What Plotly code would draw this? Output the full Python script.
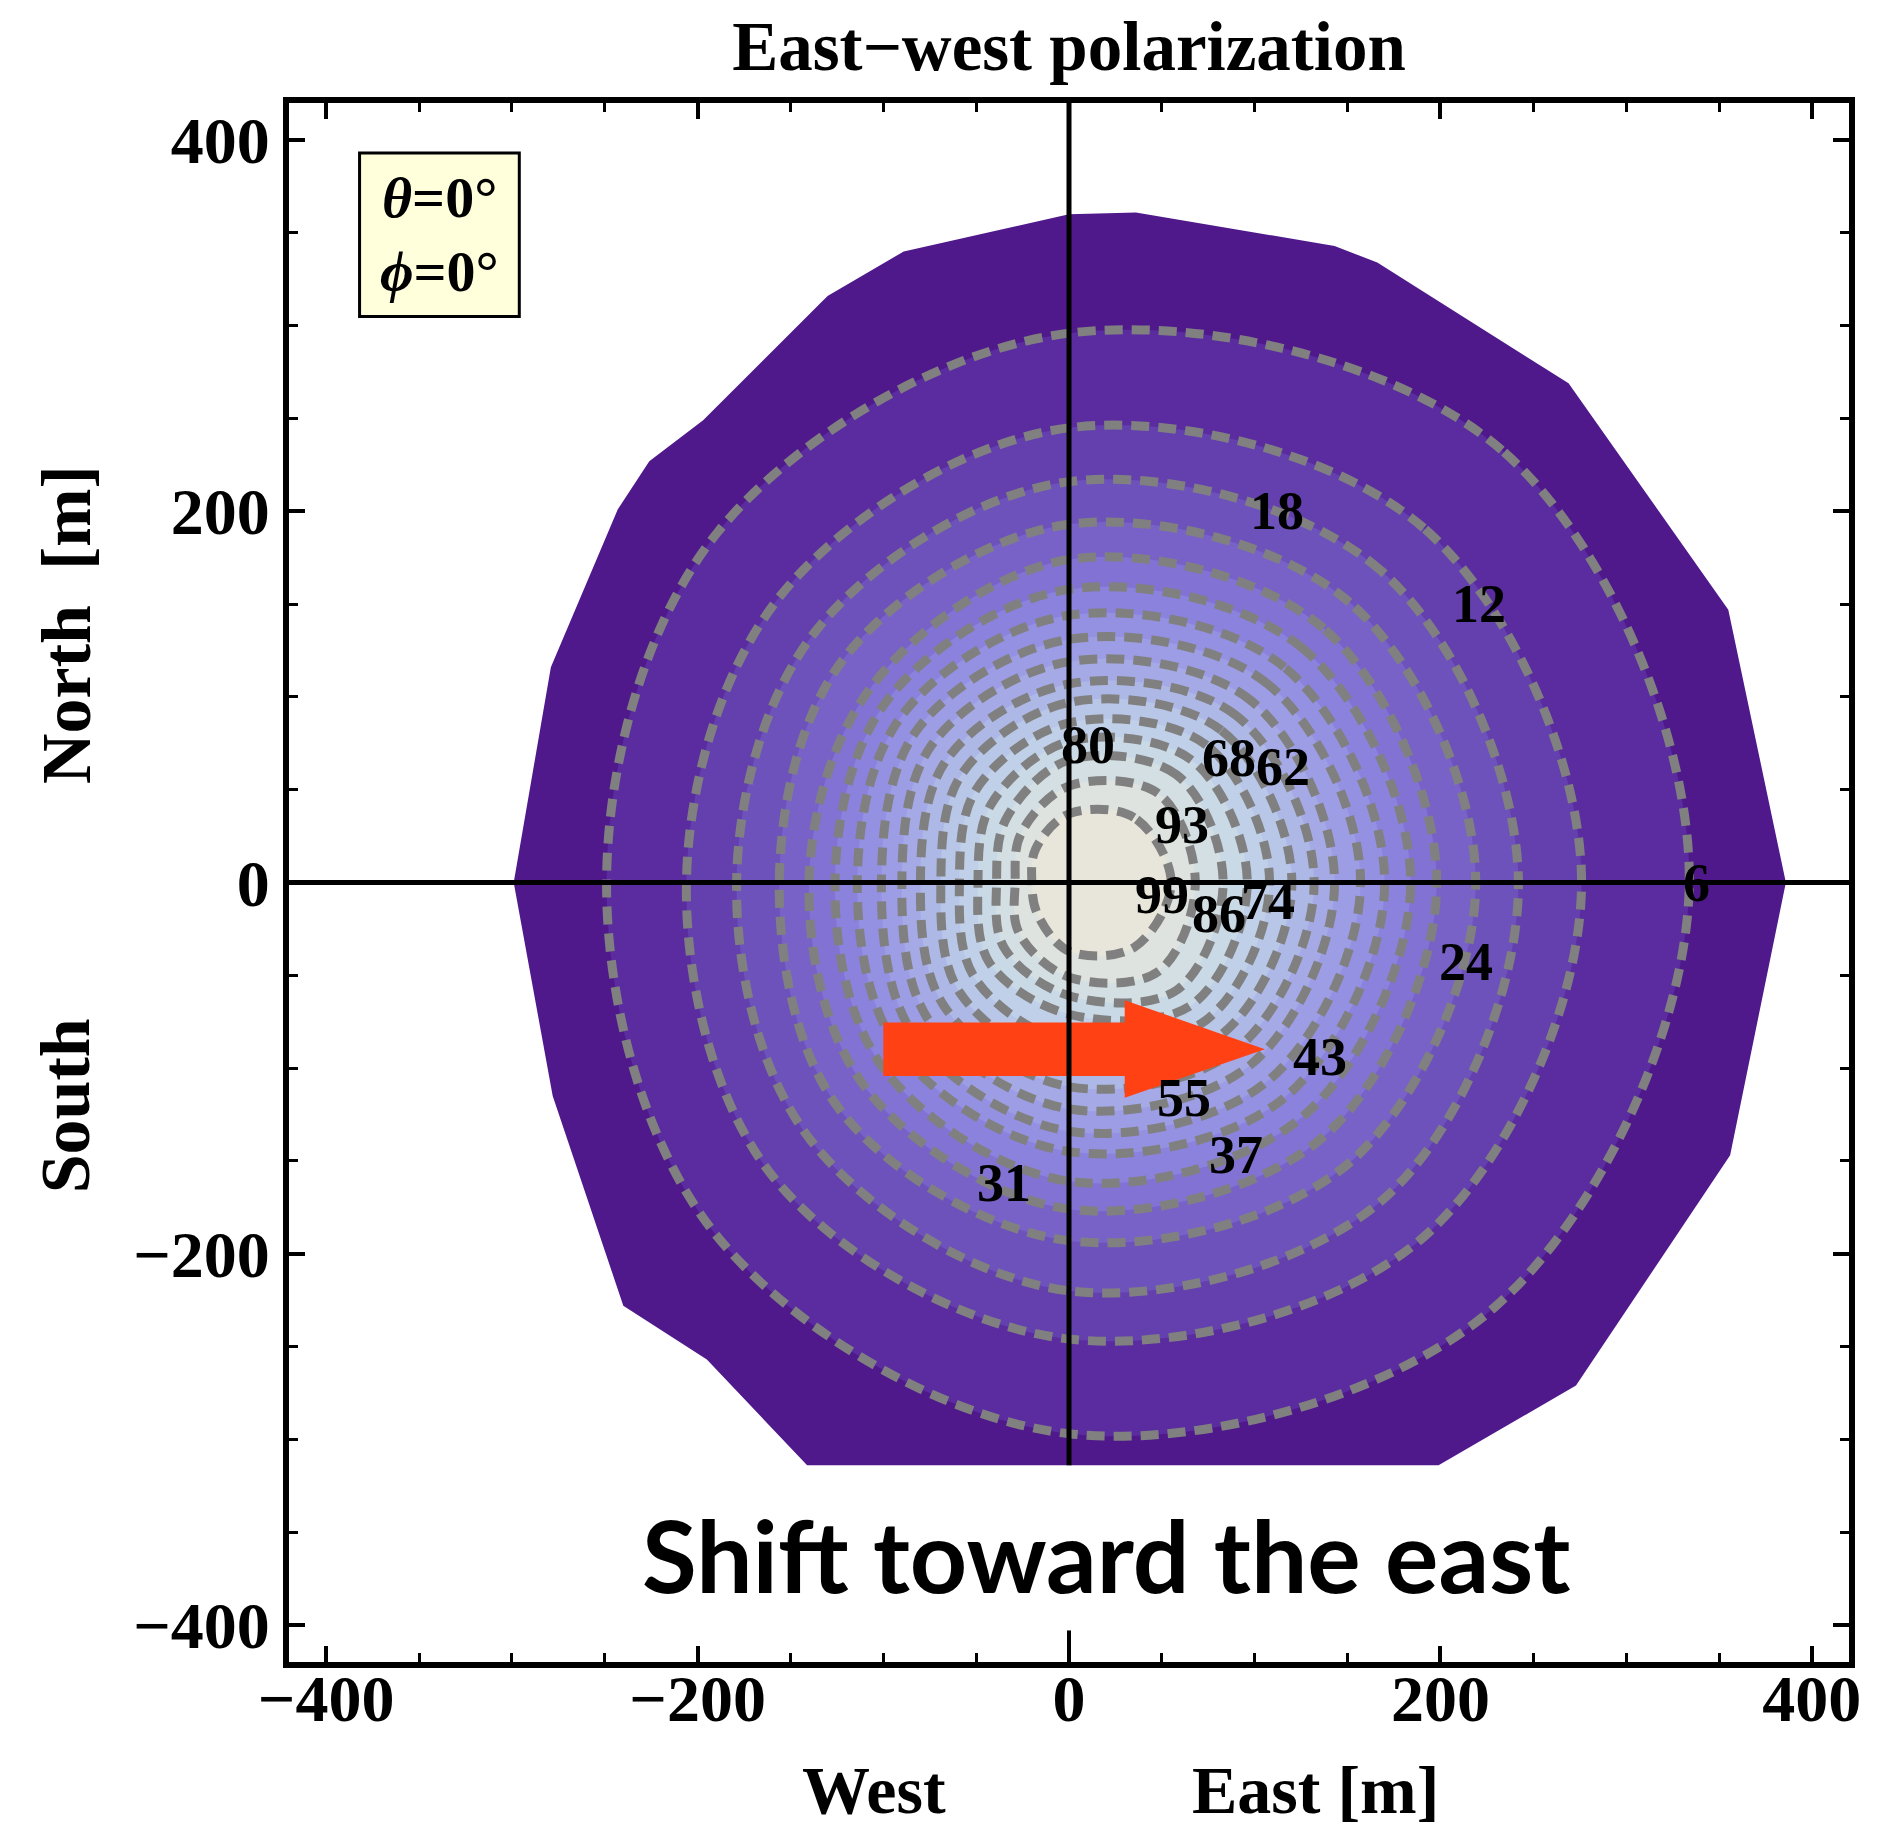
import plotly.graph_objects as go

# ---------------- data ----------------
levels = [6, 12, 18, 24, 31, 37, 43, 49, 55, 62, 68, 74, 80, 86, 93, 99]
# ring crossings (metres) along 8 directions from the origin, outer -> inner
ring_east = [334, 276, 242, 219, 198, 184, 170, 157, 143, 132, 120, 108, 96, 83, 68, 55]
ring_west = [249, 206, 179, 156, 140, 126, 114, 101, 90, 80, 69, 59, 49, 39, 29, 20]
ring_north = [296, 245, 216, 193, 174, 158, 144, 131, 119, 107, 97, 86, 76, 66, 52, 37]
ring_south = [297, 246, 220, 193, 176, 161, 145, 134, 122, 110, 98, 86, 71, 61, 51, 37]
ring_ne = [233, 191, 168, 151, 137, 126, 116, 107, 98, 90, 82, 74, 66, 58, 48, 35]
ring_nw = [189, 155, 136, 121, 106, 98, 90, 82, 74, 66, 58, 50, 42, 34, 26, 18]
ring_se = [229, 191, 170, 151, 137, 126, 116, 107, 98, 90, 82, 74, 66, 58, 48, 35]
ring_sw = [190, 159, 139, 123, 110, 100, 91, 83, 75, 67, 59, 51, 43, 35, 27, 17]

# outer boundary of the footprint (metres)
boundary_x = [0, 36, 143, 166, 269, 355, 386, 356, 273, 199, -141, -195, -240, -278, -299, -279, -243, -226, -197, -130, -89, 0]
boundary_y = [360, 361, 343, 334, 269, 147, 0, -147, -271, -314, -314, -257, -228, -115, 0, 116, 201, 227, 249, 316, 340, 360]

band_colors = ["#4F198C", "#5A2C9F", "#6440AE", "#6E52BC", "#7862C8", "#8172D4",
               "#8A82DD", "#9490E2", "#9C9DE5", "#A5AAE6", "#AEB8E7", "#B8C6E8",
               "#C0D0E8", "#C9D9E6", "#D3DFE3", "#DEE3DF", "#E8E5DA"]

label_text = ["6", "12", "18", "24", "31", "37", "43", "55", "62", "68", "74", "80", "86", "93", "99"]
label_x = [338, 221, 112, 214, -35, 90, 135, 62, 115, 86, 107, 10, 81, 61, 50]
label_y = [0, 150, 200, -43, -162, -147, -94, -116, 62, 67, -10, 74, -17, 31, -7]

x_ticks = [-400, -200, 0, 200, 400]
y_ticks = [-400, -200, 0, 200, 400]
axis_range = [-420, 420]

arrow_x = [-100, 30, 30, 105.5, 30, 30, -100, -100]
arrow_y = [-75.5, -75.5, -63.5, -89.8, -116, -104.2, -104.2, -75.5]

SERIF = "Liberation Serif"

fig = go.Figure()

# outer region
fig.add_trace(go.Scatter(x=boundary_x, y=boundary_y, mode="lines", fill="toself",
                         fillcolor=band_colors[0], line=dict(width=0, color=band_colors[0]),
                         hoverinfo="skip", showlegend=False))

for i, lev in enumerate(levels):
    xs = [ring_east[i], ring_ne[i], 0, -ring_nw[i], -ring_west[i], -ring_sw[i], 0, ring_se[i], ring_east[i]]
    ys = [0, ring_ne[i], ring_north[i], ring_nw[i], 0, -ring_sw[i], -ring_south[i], -ring_se[i], 0]
    fig.add_trace(go.Scatter(x=xs, y=ys, mode="lines", fill="toself",
                             fillcolor=band_colors[i + 1],
                             line=dict(color="rgb(128,128,128)", width=9, dash="18px,9px",
                                       shape="spline", smoothing=1.0),
                             hoverinfo="skip", showlegend=False, name=str(lev)))

# red arrow
fig.add_trace(go.Scatter(x=arrow_x, y=arrow_y, mode="lines", fill="toself",
                         fillcolor="#FF4114", line=dict(width=0, color="#FF4114"),
                         hoverinfo="skip", showlegend=False))

shapes = [
    dict(type="line", xref="x", yref="y", x0=axis_range[0], x1=axis_range[1], y0=0, y1=0,
         line=dict(color="black", width=5), layer="above"),
    dict(type="line", xref="x", yref="y", x0=0, x1=0, y0=min(boundary_y), y1=axis_range[1],
         line=dict(color="black", width=5), layer="above"),
    dict(type="line", xref="x", yref="y", x0=0, x1=0, y0=axis_range[0], y1=-403,
         line=dict(color="black", width=4), layer="above"),
    dict(type="rect", xref="x", yref="y", x0=-382, x1=-296, y0=305, y1=393,
         fillcolor="#FFFFDC", line=dict(color="black", width=3), layer="above"),
]

annotations = []
for t, lx, ly in zip(label_text, label_x, label_y):
    annotations.append(dict(x=lx, y=ly, xref="x", yref="y", text=t, showarrow=False,
                            font=dict(family=SERIF, size=54, color="black", weight="bold")))

annotations += [
    dict(x=-339, y=369, xref="x", yref="y", text="<i>θ</i>=0°", showarrow=False,
         font=dict(family=SERIF, size=58, color="black", weight="bold")),
    dict(x=-339, y=329, xref="x", yref="y", text="<i>ϕ</i>=0°", showarrow=False,
         font=dict(family=SERIF, size=58, color="black", weight="bold")),
    dict(x=20, y=-362, xref="x", yref="y", text="Shift toward the east", showarrow=False,
         font=dict(family="Lato", size=100, color="black", weight="bold")),
    dict(x=0.375, y=-0.108, xref="paper", yref="paper", text="West", showarrow=False,
         yanchor="bottom", font=dict(family=SERIF, size=68, color="black", weight="bold")),
    dict(x=0.6577, y=-0.108, xref="paper", yref="paper", text="East [m]", showarrow=False,
         yanchor="bottom", font=dict(family=SERIF, size=68, color="black", weight="bold")),
    dict(x=-0.143, y=0.6658, xref="paper", yref="paper", text="North  [m]", showarrow=False,
         textangle=-90, xanchor="center", yanchor="middle",
         font=dict(family=SERIF, size=70, color="black", weight="bold")),
    dict(x=-0.143, y=0.357, xref="paper", yref="paper", text="South", showarrow=False,
         textangle=-90, xanchor="center", yanchor="middle",
         font=dict(family=SERIF, size=70, color="black", weight="bold")),
]

axis_common = dict(range=axis_range, showgrid=False, zeroline=False, showline=True,
                   linecolor="black", linewidth=6, mirror="ticks", ticks="inside",
                   ticklen=16, tickwidth=3.5, tickcolor="black",
                   minor=dict(dtick=50, ticks="inside", ticklen=9, tickwidth=3, tickcolor="black"),
                   tickfont=dict(family=SERIF, size=66, color="black", weight="bold"))

fig.update_layout(
    width=1875, height=1826,
    margin=dict(l=281, r=34, t=95, b=172),
    paper_bgcolor="white", plot_bgcolor="white",
    title=dict(text="East−west polarization", x=0.5, xref="paper", y=0.979, yanchor="middle",
               font=dict(family=SERIF, size=69, color="black", weight="bold")),
    xaxis=dict(tickvals=x_ticks, ticklabelstandoff=-26, **axis_common),
    yaxis=dict(tickvals=y_ticks, **axis_common),
    shapes=shapes, annotations=annotations,
)

fig.write_html("out.html")
